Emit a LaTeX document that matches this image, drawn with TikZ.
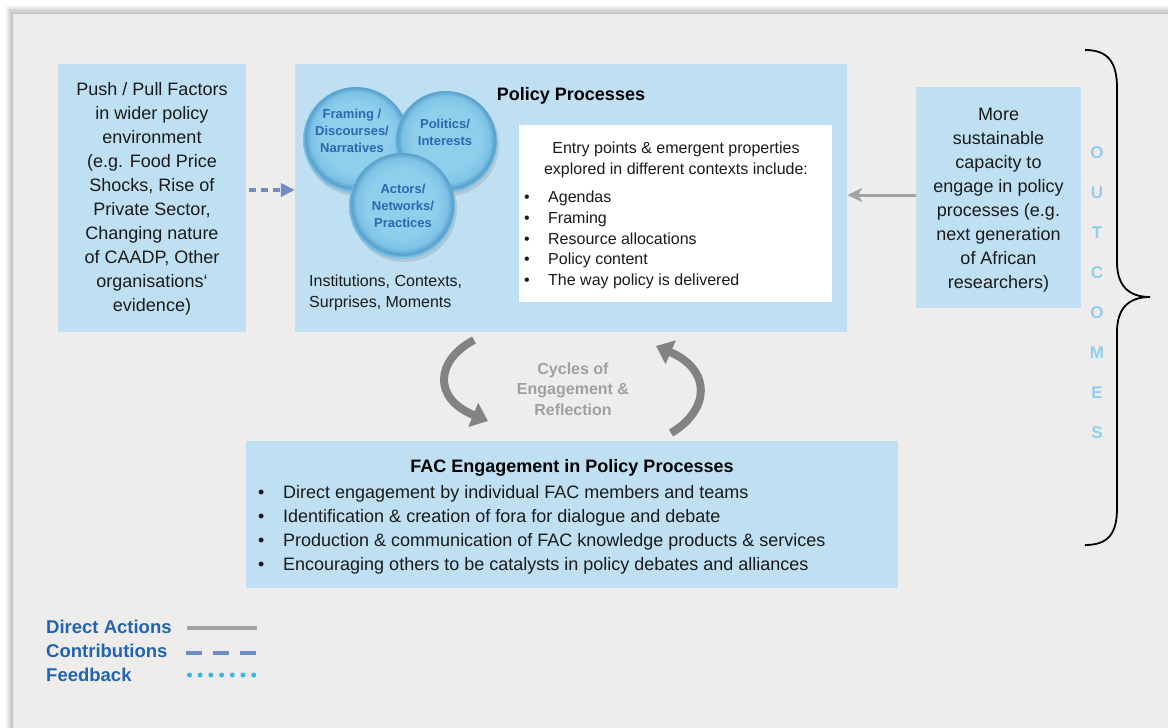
\documentclass[tikz,border=0pt]{standalone}
\usepackage{fontspec}
\setmainfont{Liberation Sans}
\usetikzlibrary{arrows.meta,shadows}
\definecolor{bg}{HTML}{EEEDEB}
\definecolor{boxblue}{HTML}{BEE0F2}
\definecolor{txtblue}{HTML}{2E67B1}
\definecolor{legblue}{HTML}{2264B0}
\definecolor{outc}{HTML}{92CEEF}
\definecolor{dashblue}{HTML}{6F8DC9}
\definecolor{dotblue}{HTML}{3DB4E8}
\definecolor{arrgray}{HTML}{A3A3A3}
\definecolor{cyc}{HTML}{A0A0A0}
\definecolor{cycarrow}{HTML}{838383}
\definecolor{ballin}{HTML}{8FCFEC}
\definecolor{ballmid}{HTML}{7DC2E6}
\definecolor{ballout}{HTML}{559FCB}
\definecolor{maintext}{HTML}{1A1A1A}
\pgfdeclareradialshading{ballshade}{\pgfpoint{0bp}{2bp}}{color(0bp)=(ballin); color(16bp)=(ballin); color(21.5bp)=(ballmid); color(24bp)=(ballout); color(25bp)=(ballmid); color(50bp)=(ballmid)}
\begin{document}
\begin{tikzpicture}[x=1pt,y=-1pt,
  box/.style={fill=boxblue, draw=none, inner sep=0pt},
  bigtxt/.style={font=\fontsize{18}{24}\selectfont, text=maintext, align=center, inner sep=0pt},
  midtxt/.style={font=\fontsize{16}{20.8}\selectfont, text=maintext, inner sep=0pt},
  balltxt/.style={font=\bfseries\fontsize{13}{17}\selectfont, text=txtblue, align=center, inner sep=0pt},
  ball/.style={circle, minimum size=106pt, shading=ballshade, drop shadow={opacity=0.25, shadow xshift=2pt, shadow yshift=-3pt}},
  legtxt/.style={font=\bfseries\fontsize{18.5}{22}\selectfont, text=legblue, anchor=west, inner sep=0pt},
  outtxt/.style={font=\bfseries\fontsize{17}{18}\selectfont, text=outc, inner sep=0pt},
  directline/.style={draw=arrgray, line width=3.5pt},
  contribline/.style={draw=dashblue, line width=4pt},
  feedline/.style={draw=dotblue, line width=5pt, line cap=round, dash pattern=on 0pt off 10.7pt},
  cyclearrow/.style={draw=cycarrow, line width=8pt, -{Triangle[length=16pt,width=25pt]}}
]
\useasboundingbox (0,0) rectangle (1168,728);
\fill[white] (0,0) rectangle (1168,728);
% background with soft shadow
\foreach \i in {1,...,7} \fill[black,opacity=0.035] (13-\i,14-1.2*\i) rectangle (1168,728);
\fill[bg] (13,14) rectangle (1168,728);

% boxes
\node[box, minimum width=188pt, minimum height=268pt] (lb) at (152,198) {};
\node[bigtxt] (lbt) at (152,199) {Push / Pull Factors\\in wider policy\\environment\\(e.g. Food Price\\Shocks, Rise of\\Private Sector,\\Changing nature\\of CAADP, Other\\organisations‘\\evidence)};

\node[box, minimum width=552pt, minimum height=268pt] (pp) at (571,198) {};
\node[font=\bfseries\fontsize{18}{22}\selectfont, text=black, inner sep=0pt] (ppt) at (571,96) {Policy Processes};

\node[fill=white, inner sep=0pt, minimum width=313pt, minimum height=177pt] (wb) at (675.5,213.5) {};
\node[midtxt, align=center] (wbh) at (676,160) {Entry points \& emergent properties\\explored in different contexts include:};
\node[midtxt, align=left, anchor=west] (wbl) at (524,240) {\makebox[24pt][l]{\textbullet}Agendas\\\makebox[24pt][l]{\textbullet}Framing\\\makebox[24pt][l]{\textbullet}Resource allocations\\\makebox[24pt][l]{\textbullet}Policy content\\\makebox[24pt][l]{\textbullet}The way policy is delivered};

\node[midtxt, align=left, anchor=west] (inst) at (309,293) {Institutions, Contexts,\\Surprises, Moments};

% circles
\node[ball] (c1) at (356,140) {};
\node[ball, minimum size=102pt] (c2) at (446,142) {};
\node[ball] (c3) at (402,206) {};
\node[balltxt] (c1t) at (352,131) {Framing /\\Discourses/\\Narratives};
\node[balltxt] (c2t) at (445,132.5) {Politics/\\Interests};
\node[balltxt] (c3t) at (403,206) {Actors/\\Networks/\\Practices};

\node[box, minimum width=165pt, minimum height=221pt] (rb) at (998.5,197.5) {};
\node[bigtxt] (rbt) at (998.5,200) {More\\sustainable\\capacity to\\engage in policy\\processes (e.g.\\next generation\\of African\\researchers)};

\node[box, minimum width=652pt, minimum height=147pt] (fac) at (572,514.5) {};
\node[font=\bfseries\fontsize{18}{22}\selectfont, text=black, inner sep=0pt] (fact) at (572,468) {FAC Engagement in Policy Processes};
\node[bigtxt, align=left, anchor=west] (facl) at (258,529.5) {\makebox[25pt][l]{\textbullet}Direct engagement by individual FAC members and teams\\\makebox[25pt][l]{\textbullet}Identification \& creation of fora for dialogue and debate\\\makebox[25pt][l]{\textbullet}Production \& communication of FAC knowledge products \& services\\\makebox[25pt][l]{\textbullet}Encouraging others to be catalysts in policy debates and alliances};

% connectors
\coordinate (ca) at (249,190);
\draw[contribline, dash pattern=on 7pt off 5pt, -{Triangle[length=14pt,width=13pt]}] (ca) -- (pp.west |- ca);
\coordinate (ra) at (916,195);
\draw[draw=arrgray, line width=3pt, -{Stealth[length=15pt,width=14pt,inset=4pt]}] (ra) -- (pp.east |- ra);

% cycle arrows
\node[font=\bfseries\fontsize{16}{20.5}\selectfont, text=cyc, align=center, inner sep=0pt] (cyct) at (573,389) {Cycles of\\Engagement \&\\Reflection};
\coordinate (la1) at (474,340);
\coordinate (la2) at (488,421);
\draw[cyclearrow] (la1) .. controls (436,360) and (432,398) .. (la2);
\coordinate (ra1) at (671,433);
\coordinate (ra2) at (656,346);
\draw[cyclearrow] (ra1) .. controls (710,410) and (712,370) .. (ra2);

% brace
\coordinate (bt) at (1085,50);
\coordinate (bb) at (1085,545);
\coordinate (btip) at (1150,297);
\draw[black, line width=1.8pt] (bt) .. controls (1108,50) and (1117,62) .. (1117,88) -- (1117,262) .. controls (1117,285) and (1128,297) .. (btip) .. controls (1128,297) and (1117,309) .. (1117,332) -- (1117,508) .. controls (1117,534) and (1108,545) .. (bb);

% OUTCOMES
\node[outtxt] (o1) at (1097,153) {O};
\node[outtxt] (o2) at (1097,193) {U};
\node[outtxt] (o3) at (1097,233) {T};
\node[outtxt] (o4) at (1097,273) {C};
\node[outtxt] (o5) at (1097,313) {O};
\node[outtxt] (o6) at (1097,353) {M};
\node[outtxt] (o7) at (1097,393) {E};
\node[outtxt] (o8) at (1097,433) {S};

% legend
\node[legtxt] (l1) at (46,627) {Direct Actions};
\node[legtxt] (l2) at (46,650.5) {Contributions};
\node[legtxt] (l3) at (46,674.5) {Feedback};
\coordinate (d1a) at (187,628);
\coordinate (d1b) at (257,628);
\draw[directline] (d1a) -- (d1b);
\coordinate (d2a) at (186,653);
\coordinate (d2b) at (257,653);
\draw[contribline, dash pattern=on 16pt off 11pt] (d2a) -- (d2b);
\coordinate (d3a) at (189.5,675);
\coordinate (d3b) at (256,675);
\draw[feedline] (d3a) -- (d3b);
\end{tikzpicture}
\end{document}
